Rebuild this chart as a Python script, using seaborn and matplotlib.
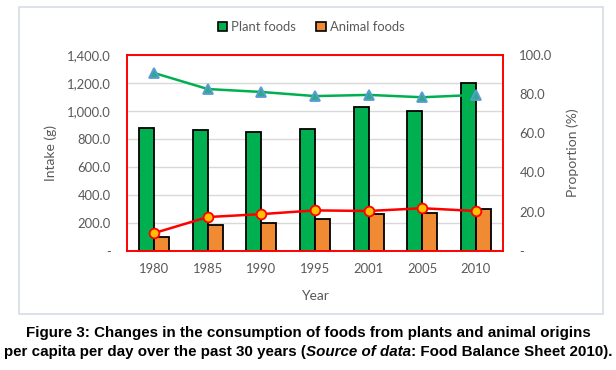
import numpy as np
import pandas as pd
import matplotlib
matplotlib.use("Agg")
import matplotlib.pyplot as plt
import seaborn as sns
from matplotlib.patches import Rectangle, Patch
from matplotlib.ticker import FuncFormatter

# data
years = ["1980", "1985", "1990", "1995", "2001", "2005", "2010"]
plant_intake = [876, 866, 852, 871, 1026, 997, 1202]
animal_intake = [96, 182, 196, 229, 260, 272, 296]
plant_share = [90.8, 82.6, 81.1, 79.0, 79.6, 78.4, 79.6]
animal_share = [9.0, 17.2, 18.7, 20.6, 20.3, 21.7, 20.3]

bars = pd.DataFrame({
    "Year": years * 2,
    "Intake": plant_intake + animal_intake,
    "Food": ["Plant foods"] * len(years) + ["Animal foods"] * len(years),
})
shares = pd.DataFrame({"Year": years, "Plant": plant_share, "Animal": animal_share})

green = "#00B050"
orange = "#F08B33"
grey = "#595959"

sns.set_theme(style="white")
plt.rcParams["font.family"] = ["Lato", "DejaVu Sans"]

fig = plt.figure(figsize=(6.16, 3.70), dpi=100)
ax = fig.add_axes([0.2067, 0.3224, 0.6094, 0.529])

sns.barplot(data=bars, x="Year", y="Intake", hue="Food",
            palette={"Plant foods": green, "Animal foods": orange}, saturation=1,
            width=0.56, edgecolor="black", linewidth=1.3, legend=False, ax=ax)

ax2 = ax.twinx()
sns.pointplot(data=shares, x="Year", y="Plant", color=green, markers="^",
              errorbar=None, linewidth=1.8, markersize=7,
              markerfacecolor="#2EAA8A", markeredgecolor="#5B9BD5",
              markeredgewidth=1.3, ax=ax2)
sns.pointplot(data=shares, x="Year", y="Animal", color="red", markers="o",
              errorbar=None, linewidth=1.8, markersize=7,
              markerfacecolor="#FFC000", markeredgecolor="red",
              markeredgewidth=1.3, ax=ax2)

ax.set_xlim(-0.5, len(years) - 0.5)
ax.set_ylim(0, 1400)
ax.set_yticks(np.arange(0, 1401, 200))
ax.yaxis.set_major_formatter(FuncFormatter(lambda v, p: "-" if v == 0 else f"{v:,.1f}"))
ax2.set_ylim(0, 100)
ax2.set_yticks(np.arange(0, 101, 20))
ax2.yaxis.set_major_formatter(FuncFormatter(lambda v, p: "-" if v == 0 else f"{v:.1f}"))

ax.yaxis.grid(True, color="#D9D9D9", linewidth=1)
ax.set_axisbelow(True)

for a in (ax, ax2):
    for s in a.spines.values():
        s.set_color("red")
        s.set_linewidth(1.2)
    a.tick_params(length=0, labelsize=9.4, labelcolor=grey)
ax.tick_params(axis="y", pad=12)
ax2.tick_params(axis="y", pad=12)
ax.tick_params(axis="x", pad=9)

ax.set_xlabel("Year", fontsize=10, color=grey)
ax.xaxis.set_label_coords(0.5, -0.2)
ax.set_ylabel("Intake (g)", fontsize=10, color=grey)
ax.yaxis.set_label_coords(-0.187, 0.5)
ax2.set_ylabel("Proportion (%)", fontsize=10, color=grey)
ax2.yaxis.set_label_coords(1.1686, 0.5)

handles = [Patch(facecolor=green, edgecolor="black", linewidth=1.2, label="Plant foods"),
           Patch(facecolor=orange, edgecolor="black", linewidth=1.2, label="Animal foods")]
leg = fig.legend(handles=handles, loc="center", bbox_to_anchor=(311 / 616, 1 - 27 / 370),
                 ncol=2, frameon=False, fontsize=9.4, handlelength=0.75, handleheight=0.75,
                 handletextpad=0.3, columnspacing=1.5)
for t in leg.get_texts():
    t.set_color(grey)

# outer chart box
fig.patches.append(Rectangle((18.5 / 616, 1 - 314 / 370), (603 - 18.5) / 616, (314 - 7) / 370,
                             transform=fig.transFigure, fill=False,
                             edgecolor="#D6DCE8", linewidth=1.2))

# caption
cap = dict(fontsize=10.9, fontweight="bold", family=["Liberation Sans", "DejaVu Sans"], color="black")
fig.text(0.5, 1 - 333 / 370, "Figure 3: Changes in the consumption of foods from plants and animal origins",
         ha="center", va="center", **cap)
parts = [("per capita per day over the past 30 years (", "normal"),
         ("Source of data", "italic"),
         (": Food Balance Sheet 2010).", "normal")]
texts = [fig.text(0, 1 - 352 / 370, s, ha="left", va="center", style=st, **cap) for s, st in parts]
fig.canvas.draw()
r = fig.canvas.get_renderer()
widths = [t.get_window_extent(r).width for t in texts]
x = (fig.bbox.width - sum(widths)) / 2
for t, w in zip(texts, widths):
    t.set_x(x / fig.bbox.width)
    x += w

fig.savefig("out.png", dpi=100)
